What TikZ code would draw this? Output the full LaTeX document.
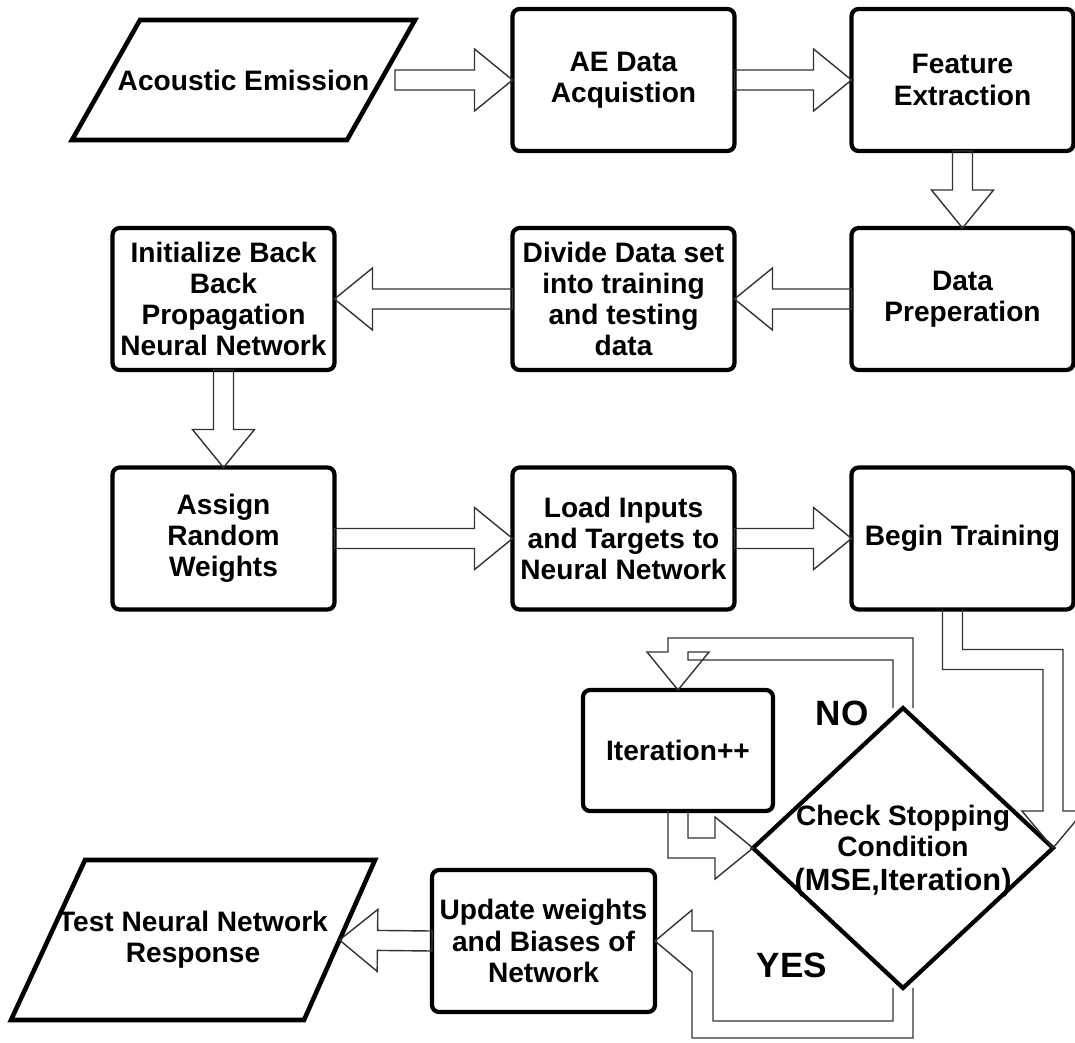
\documentclass[tikz,border=0pt]{standalone}
\usepackage{fontspec}
\setmainfont{Liberation Sans}
\usepackage{tikz}
\usetikzlibrary{shapes,arrows,positioning,calc}

% hollow block arrow from a point to a tip (straight runs)
\newcommand{\blkarrow}[2]{%
  \coordinate (hb) at ($(#2)!0.76cm!(#1)$);
  \draw[blk] ($(#1)!0.2cm!90:(#2)$) -- ($(hb)!0.2cm!-90:(#1)$) -- ($(hb)!0.62cm!-90:(#1)$) -- (#2)
     -- ($(hb)!0.62cm!90:(#1)$) -- ($(hb)!0.2cm!90:(#1)$) -- ($(#1)!0.2cm!-90:(#2)$) -- cycle;}

\begin{document}
\begin{tikzpicture}[x=0.02cm, y=0.02cm,
    font=\fontsize{16}{17.8}\selectfont\bfseries,
    stage/.style={draw, line width=2.4pt, rounded corners=4pt, outer sep=0pt, align=center,
                  minimum width=4.44cm, minimum height=2.84cm},
    decision/.style={draw, diamond, line width=2.4pt, outer sep=0pt, inner sep=0pt,
                  minimum width=6cm, minimum height=5.6cm},
    ioshape/.style={line width=2.6pt},
    blk/.style={draw=black!80, line width=0.8pt, line join=miter},
    tag/.style={font=\fontsize{20}{24}\selectfont\bfseries}]
    \useasboundingbox (0,0) rectangle (1075,-1042);

    % Top row
    \node[align=center] (acoust) at (243.5,-80) {Acoustic Emission};
    \draw[ioshape] ($(acoust)+(-103.5,60)$) -- ($(acoust)+(171.5,60)$)
        -- ($(acoust)+(103.5,-60)$) -- ($(acoust)+(-171.5,-60)$) -- cycle;
    \coordinate (acoust-tail) at ($(acoust)+(151.5,0)$);
    \node[stage] (aeacq) at (623.5,-80) {AE Data\\Acquistion};
    \node[stage] (feat) at (962.5,-80) {Feature\\Extraction};

    % Second row
    \node[stage] (prep) at (962.5,-299) {Data\\Preperation};
    \node[stage] (divide) at (623.5,-299) {Divide Data set\\into training\\and testing\\data};
    \node[stage] (init) at (223.5,-299) {Initialize Back\\Back\\Propagation\\Neural Network};

    % Third row
    \node[stage] (assign) at (223.5,-538.5) {Assign\\Random\\Weights};
    \node[stage] (load) at (623.5,-538.5) {Load Inputs\\and Targets to\\Neural Network};
    \node[stage] (begin) at (962.5,-538.5) {Begin Training};

    % Training loop
    \node[stage, minimum width=3.8cm, minimum height=2.42cm] (iter) at (678,-750.5) {Iteration++};
    \node[decision] (chk) at (903,-848) {};
    \node[align=center] (chktext) at (903,-851) {Check Stopping\\Condition\\[1.5pt]{\fontsize{17.5}{20}\selectfont (MSE,Iteration)}};
    \node[tag] (no) at (842,-713) {NO};
    \node[tag] (yes) at (792,-965) {YES};

    % Bottom row
    \node[stage, minimum width=4.46cm] (update) at (543.5,-941) {Update weights\\and Biases of\\Network};
    \node[align=center] (test) at (193,-940) {Test Neural Network\\Response};
    \draw[ioshape] ($(test)+(-108,80)$) coordinate (test-nw) -- ($(test)+(182,80)$) coordinate (test-ne)
        -- ($(test)+(111,-80)$) coordinate (test-se) -- ($(test)+(-182,-80)$) -- cycle;
    \coordinate (test-e) at ($(test-ne)!0.5!(test-se)$);

    % Straight arrows
    \blkarrow{acoust-tail}{aeacq.west}
    \blkarrow{aeacq.east}{feat.west}
    \blkarrow{feat.south}{prep.north}
    \blkarrow{prep.west}{divide.east}
    \blkarrow{divide.west}{init.east}
    \blkarrow{init.south}{assign.north}
    \blkarrow{assign.east}{load.west}
    \blkarrow{load.east}{begin.west}
    \blkarrow{update.west}{test-e}

    % Begin Training -> check
    \coordinate (bt1) at ($(begin.south)+(-20,-60)$);
    \coordinate (bt2) at ($(begin.south)+(0,-40)$);
    \draw[blk] ($(begin.south)+(-20,0)$) -- (bt1) -| ($(chk.east)+(-10,37)$) -- ($(chk.east)+(-31,37)$)
        -- (chk.east) -- ($(chk.east)+(31,37)$) -- ($(chk.east)+(10,37)$) |- (bt2) -- (begin.south);

    % NO branch back to the counter
    \draw[blk] ($(chk.north)+(-10,0)$) |- ($(iter.north)+(10,30)$) -- ($(iter.north)+(10,38)$)
        -- ($(iter.north)+(31,38)$) -- (iter.north) -- ($(iter.north)+(-31,38)$)
        -- ($(iter.north)+(-10,38)$) |- ($(chk.north)+(10,70)$) -- ($(chk.north)+(10,0)$);

    % counter -> check
    \draw[blk] ($(iter.south)+(10,0)$) |- ($(chk.west)+(-38,10)$) -- ($(chk.west)+(-38,31)$)
        -- (chk.west) -- ($(chk.west)+(-38,-31)$) -- ($(chk.west)+(-38,-10)$) -| ($(iter.south)+(-10,0)$);

    % YES branch
    \draw[blk] ($(chk.south)+(-10,0)$) -- ($(chk.south)+(-10,-33)$) -| ($(update.east)+(58,10)$)
        -- ($(update.east)+(37,10)$) -- ($(update.east)+(37,31)$) -- (update.east)
        -- ($(update.east)+(37,-31)$) |- ($(chk.south)+(10,-50)$) -- ($(chk.south)+(10,0)$);
\end{tikzpicture}
\end{document}
